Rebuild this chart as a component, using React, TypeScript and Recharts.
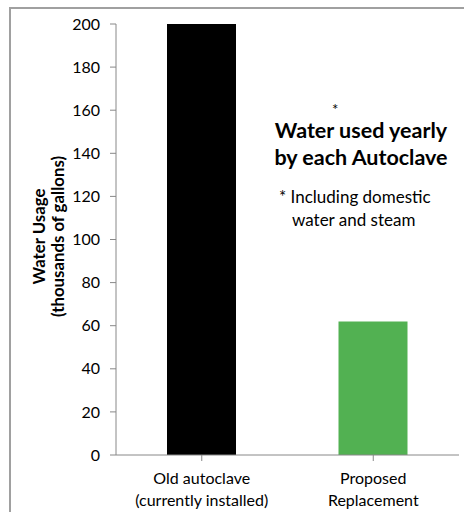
import { BarChart, Bar, XAxis, YAxis, Cell } from 'recharts';

const categories = ['Old autoclave', 'Proposed Replacement'];
const tickLines = [
  ['Old autoclave', '(currently installed)'],
  ['Proposed', 'Replacement'],
];
const waterUsage = [200, 62];
const barColors = ['#000000', '#52b152'];
const yTicks = [0, 20, 40, 60, 80, 100, 120, 140, 160, 180, 200];

const data = categories.map((name, i) => ({ name, usage: waterUsage[i] }));

const FONT = 'Lato, "Open Sans", sans-serif';

function CategoryTick({ x, y, payload, index }: any) {
  const lines = tickLines[index] ?? [payload.value];
  return (
    <g transform={`translate(${x},${y})`}>
      {lines.map((l: string, i: number) => (
        <text key={i} x={0} y={21 + i * 22} textAnchor="middle" fontSize={16} fill="#000" fontFamily={FONT}>
          {l}
        </text>
      ))}
    </g>
  );
}

function AxisTitle({ viewBox }: any) {
  const cy = viewBox.y + viewBox.height / 2 - 3;
  return (
    <g transform={`translate(0,${cy}) rotate(-90)`} fontFamily={FONT} fontWeight="bold" fontSize={16.8} fill="#000">
      <text x={0} y={45} textAnchor="middle">
        Water Usage
      </text>
      <text x={0} y={64} textAnchor="middle">
        (thousands of gallons)
      </text>
    </g>
  );
}

export default function App() {
  return (
    <div style={{ position: 'absolute', left: 0, top: 0, width: 464, height: 512, background: '#fff', fontFamily: FONT }}>
      {/* outer frame, top and left edges only */}
      <div style={{ position: 'absolute', left: 9, top: 7, right: 0, bottom: 0, borderTop: '2px solid #a0a0a0', borderLeft: '2px solid #a0a0a0' }} />
      <BarChart width={464} height={512} data={data} margin={{ top: 24, right: 5, bottom: 0, left: 0 }} barSize={69}>
        <XAxis
          dataKey="name"
          height={57}
          axisLine={{ stroke: '#888' }}
          tickLine={{ stroke: '#888' }}
          tickSize={6}
          interval={0}
          tick={<CategoryTick />}
        />
        <YAxis
          width={116}
          domain={[0, 200]}
          ticks={yTicks}
          interval={0}
          axisLine={{ stroke: '#888' }}
          tickLine={{ stroke: '#888' }}
          tickSize={6}
          tickMargin={10}
          tick={{ fontSize: 16, fill: '#000', fontFamily: FONT }}
          label={<AxisTitle />}
        />
        <Bar dataKey="usage" isAnimationActive={false}>
          {data.map((d, i) => (
            <Cell key={d.name} fill={barColors[i]} />
          ))}
        </Bar>
      </BarChart>
      <div style={{ position: 'absolute', left: 332, top: 102, fontSize: 15, lineHeight: '15px' }}>*</div>
      <div style={{ position: 'absolute', left: 261, top: 117, width: 200, textAlign: 'center', fontSize: 21.5, lineHeight: '27px', fontWeight: 'bold', color: '#000' }}>
        Water used yearly
        <br />
        by each Autoclave
      </div>
      <div style={{ position: 'absolute', left: 279, top: 185, fontSize: 17, lineHeight: '23px', color: '#000' }}>
        * Including domestic
        <br />
        <span style={{ paddingLeft: 13 }}>water and steam</span>
      </div>
    </div>
  );
}
